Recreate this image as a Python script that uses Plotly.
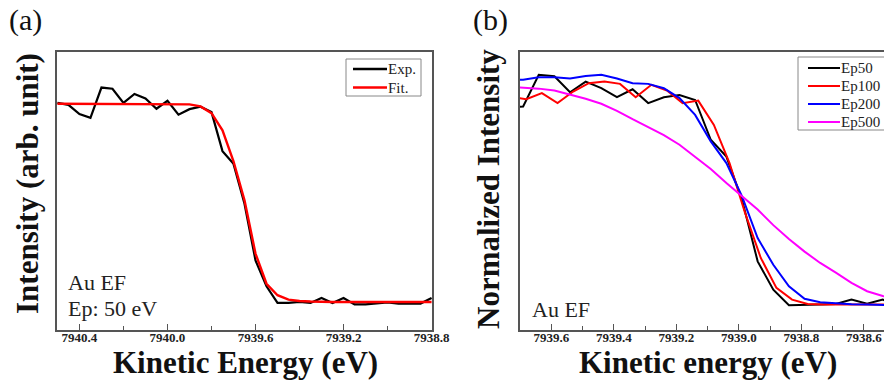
import plotly.graph_objects as go

# ---------------- data: panel (a) ----------------
energy_a = [7940.50, 7940.45, 7940.40, 7940.35, 7940.30, 7940.25, 7940.20, 7940.15,
            7940.10, 7940.05, 7940.00, 7939.95, 7939.90, 7939.85, 7939.80, 7939.75,
            7939.70, 7939.65, 7939.60, 7939.55, 7939.50, 7939.45, 7939.40, 7939.35,
            7939.30, 7939.25, 7939.20, 7939.15, 7939.10, 7939.05, 7939.00, 7938.95,
            7938.90, 7938.85, 7938.80]
exp_a = [1.005, 0.995, 0.948, 0.929, 1.082, 1.076, 1.005, 1.050, 1.027, 0.975,
         1.015, 0.945, 0.973, 0.985, 0.958, 0.761, 0.697, 0.496, 0.210, 0.079,
         -0.005, -0.005, 0.000, -0.005, 0.020, -0.005, 0.020, -0.012, -0.012, -0.008,
         -0.002, -0.008, -0.008, -0.008, 0.020]
fit_a = [1.000, 1.000, 1.000, 1.000, 1.000, 1.000, 1.000, 1.000, 1.000, 1.000,
         1.000, 0.998, 0.997, 0.987, 0.953, 0.866, 0.710, 0.513, 0.244, 0.092,
         0.034, 0.012, 0.005, 0.002, 0.000, 0.000, 0.000, 0.000, 0.000, 0.000,
         0.000, 0.000, 0.000, 0.000, 0.000]

# ---------------- data: panel (b) ----------------
energy_b = [7939.74, 7939.69, 7939.64, 7939.59, 7939.54, 7939.49, 7939.44, 7939.39,
            7939.34, 7939.29, 7939.24, 7939.19, 7939.14, 7939.09, 7939.04, 7938.99,
            7938.94, 7938.89, 7938.84, 7938.79, 7938.74, 7938.69, 7938.64, 7938.59,
            7938.54, 7938.49]
ep50 = [0.870, 0.875, 1.015, 1.009, 0.938, 0.985, 0.956, 0.916, 0.951, 0.890,
        0.916, 0.926, 0.904, 0.728, 0.654, 0.463, 0.191, 0.066, -0.003, -0.003,
        0.000, 0.003, 0.022, 0.004, 0.022, -0.007]
ep200 = [0.993, 0.993, 1.004, 1.004, 0.999, 1.010, 1.015, 0.999, 0.978, 0.975,
         0.956, 0.912, 0.838, 0.721, 0.625, 0.478, 0.294, 0.176, 0.081, 0.026,
         0.010, 0.004, 0.001, 0.000, -0.003, -0.003]
ep500 = [0.963, 0.960, 0.954, 0.946, 0.929, 0.909, 0.887, 0.856, 0.819, 0.785,
         0.749, 0.706, 0.654, 0.599, 0.537, 0.479, 0.420, 0.351, 0.290, 0.234,
         0.184, 0.141, 0.096, 0.059, 0.038, 0.025]
energy_b100 = [7939.73, 7939.68, 7939.63, 7939.58, 7939.53, 7939.48, 7939.43, 7939.38,
               7939.33, 7939.28, 7939.23, 7939.18, 7939.13, 7939.08, 7939.03, 7938.98,
               7938.93, 7938.88, 7938.83, 7938.78, 7938.73, 7938.68, 7938.63, 7938.58,
               7938.53]
ep100 = [0.919, 0.907, 0.934, 0.890, 0.941, 0.978, 0.985, 0.975, 0.916, 0.971,
         0.946, 0.890, 0.901, 0.794, 0.625, 0.404, 0.206, 0.074, 0.022, 0.003,
         0.000, 0.000, -0.002, 0.000, 0.000]

legend_a = ["Exp.", "Fit."]
legend_b = ["Ep50", "Ep100", "Ep200", "Ep500"]
colors_a = ["#000000", "#ff0000"]
colors_b = ["#000000", "#ff0000", "#0000ff", "#ff00ff"]

W, H = 884, 385
SERIF = "Liberation Serif"
AXC = "#555555"


def px(x):
    return x / W


def py(y):
    return 1 - y / H


fig = go.Figure()
fig.add_trace(go.Scatter(x=energy_a, y=exp_a, mode="lines", name=legend_a[0],
                         line=dict(color=colors_a[0], width=2.2), xaxis="x", yaxis="y"))
fig.add_trace(go.Scatter(x=energy_a, y=fit_a, mode="lines", name=legend_a[1],
                         line=dict(color=colors_a[1], width=2.4), xaxis="x", yaxis="y"))
series_b = [(energy_b, ep50), (energy_b100, ep100), (energy_b, ep200), (energy_b, ep500)]
for (xs, ys), nm, c in zip(series_b, legend_b, colors_b):
    fig.add_trace(go.Scatter(x=xs, y=ys, mode="lines", name=nm,
                             line=dict(color=c, width=2), xaxis="x2", yaxis="y2"))

tickfont = dict(family=SERIF, size=13, color="#222222", weight="bold")
ydom = [py(329.5), py(51.5)]

common_x = dict(showline=True, linecolor=AXC, linewidth=1.5, mirror=True,
                showgrid=False, zeroline=False, ticks="inside", ticklen=6,
                tickwidth=1.2, tickcolor=AXC, tickformat=".1f", tickfont=tickfont,
                tickmode="linear", ticklabelstandoff=-5)
common_y = dict(showline=True, linecolor=AXC, linewidth=1.5, showgrid=False,
                zeroline=False, showticklabels=False, ticks="")

annotations = [
    dict(text="(a)", x=px(25), y=py(20), font=dict(family=SERIF, size=30, color="#111")),
    dict(text="(b)", x=px(490), y=py(20), font=dict(family=SERIF, size=30, color="#111")),
    dict(text="Kinetic Energy (eV)", x=px(245), y=py(362),
         font=dict(family=SERIF, size=31, color="#111", weight="bold")),
    dict(text="Kinetic energy (eV)", x=px(708), y=py(362),
         font=dict(family=SERIF, size=31, color="#111", weight="bold")),
    dict(text="Intensity (arb. unit)", x=px(28), y=py(184), textangle=-90,
         font=dict(family=SERIF, size=31, color="#111", weight="bold")),
    dict(text="Normalized Intensity", x=px(488), y=py(189), textangle=-90,
         font=dict(family=SERIF, size=31, color="#111", weight="bold")),
    dict(text="Au EF", x=px(66), y=py(282), xanchor="left",
         font=dict(family=SERIF, size=22, color="#222")),
    dict(text="Ep: 50 eV", x=px(66), y=py(308), xanchor="left",
         font=dict(family=SERIF, size=22, color="#222")),
    dict(text="Au EF", x=px(530), y=py(309), xanchor="left",
         font=dict(family=SERIF, size=22, color="#222")),
]

shapes = []
# legend (a): box, line samples, labels
shapes.append(dict(type="rect", x0=px(346), x1=px(421), y0=py(59), y1=py(96),
                   line=dict(color="#888888", width=1), fillcolor="white"))
for i, (nm, c) in enumerate(zip(legend_a, colors_a)):
    yy = 69 + 18.5 * i
    shapes.append(dict(type="line", x0=px(353), x1=px(387), y0=py(yy), y1=py(yy),
                       line=dict(color=c, width=2.4)))
    annotations.append(dict(text=nm, x=px(386), y=py(yy), xanchor="left",
                            font=dict(family=SERIF, size=15, color="#222")))
# legend (b)
shapes.append(dict(type="rect", x0=px(798), x1=px(905), y0=py(57), y1=py(130),
                   line=dict(color="#888888", width=1), fillcolor="white"))
for i, (nm, c) in enumerate(zip(legend_b, colors_b)):
    yy = 68 + 18 * i
    shapes.append(dict(type="line", x0=px(808), x1=px(840), y0=py(yy), y1=py(yy),
                       line=dict(color=c, width=2)))
    annotations.append(dict(text=nm, x=px(839), y=py(yy), xanchor="left",
                            font=dict(family=SERIF, size=15, color="#222")))

for a in annotations:
    a.update(xref="paper", yref="paper", showarrow=False)
    a.setdefault("xanchor", "center")
    a.setdefault("yanchor", "middle")
for s in shapes:
    s.update(xref="paper", yref="paper", layer="above")

fig.update_layout(
    width=W, height=H,
    margin=dict(l=0, r=0, t=0, b=0, autoexpand=False),
    paper_bgcolor="white", plot_bgcolor="white",
    showlegend=False,
    xaxis=dict(domain=[px(57), px(432)], anchor="y", range=[7940.502, 7938.798],
               tick0=7940.4, dtick=0.4,
               minor=dict(dtick=0.2, ticks="inside", ticklen=4, tickcolor=AXC),
               **common_x),
    yaxis=dict(domain=ydom, anchor="x", range=[-0.139, 1.264], mirror=True, **common_y),
    xaxis2=dict(domain=[px(520), 1.0], anchor="y2", range=[7939.70, 7938.536],
                tick0=7939.6, dtick=0.2,
                minor=dict(dtick=0.1, ticks="inside", ticklen=4, tickcolor=AXC),
                **common_x),
    yaxis2=dict(domain=ydom, anchor="x2", range=[-0.110, 1.118], mirror=False, **common_y),
    annotations=annotations,
    shapes=shapes,
)

fig.write_html("out.html", config={"displayModeBar": False},
               post_script="document.body.style.margin='0px';document.body.style.overflow='hidden';")
